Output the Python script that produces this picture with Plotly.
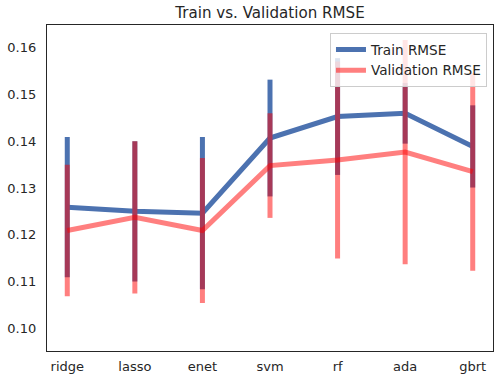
import plotly.graph_objects as go

models = ["ridge", "lasso", "enet", "svm", "rf", "ada", "gbrt"]
train_rmse = [0.1259, 0.1250, 0.1246, 0.1407, 0.1453, 0.1460, 0.1389]
train_err = [0.0150, 0.0150, 0.0163, 0.0125, 0.0125, 0.0065, 0.0088]
val_rmse = [0.1209, 0.1237, 0.1209, 0.1348, 0.1360, 0.1377, 0.1335]
val_err = [0.0141, 0.0163, 0.0155, 0.0112, 0.0211, 0.0240, 0.0212]
y_ticks = [0.10, 0.11, 0.12, 0.13, 0.14, 0.15, 0.16]

FONT = "DejaVu Sans"
TXT = "#262626"

fig = go.Figure()
fig.add_trace(go.Scatter(
    x=list(range(len(models))), y=train_rmse, mode="lines", name="Train RMSE",
    line=dict(color="#4C72B0", width=5),
    error_y=dict(type="data", array=train_err, visible=True, thickness=5, width=0, color="#4C72B0"),
))
fig.add_trace(go.Scatter(
    x=list(range(len(models))), y=val_rmse, mode="lines", name="Validation RMSE",
    line=dict(color="rgba(255,0,0,0.5)", width=5),
    error_y=dict(type="data", array=val_err, visible=True, thickness=5, width=0, color="rgba(255,0,0,0.5)"),
))

fig.update_layout(
    width=500, height=382,
    margin=dict(l=47, r=7, t=25, b=31, pad=0),
    paper_bgcolor="white", plot_bgcolor="white",
    font=dict(family=FONT, size=13, color=TXT),
    title=dict(text="Train vs. Validation RMSE", x=0.5, xref="paper", xanchor="center",
               y=1 - 13 / 382, yref="container", yanchor="middle",
               font=dict(family=FONT, size=15.1, color=TXT)),
    showlegend=True,
    legend=dict(x=0.9865, y=0.975, xanchor="right", yanchor="top",
                bgcolor="rgba(255,255,255,0.8)", bordercolor="#cccccc", borderwidth=1,
                font=dict(family=FONT, size=13.6, color=TXT), tracegroupgap=0),
)
fig.update_xaxes(
    range=[-0.3, 6.3], tickmode="array", tickvals=list(range(len(models))), ticktext=models,
    showgrid=False, zeroline=False, showline=True, mirror=True, linecolor=TXT, linewidth=1.25,
    ticks="outside", ticklen=3, tickcolor="rgba(0,0,0,0)",
)
fig.update_yaxes(
    range=[0.0951, 0.1649], tickmode="array", tickvals=y_ticks,
    ticktext=[f"{v:.2f}" for v in y_ticks],
    showgrid=False, zeroline=False, showline=True, mirror=True, linecolor=TXT, linewidth=1.25,
    ticks="outside", ticklen=7, tickcolor="rgba(0,0,0,0)",
)

fig.write_html("out.html", config={"displayModeBar": False},
               post_script="document.body.style.margin='0';")
